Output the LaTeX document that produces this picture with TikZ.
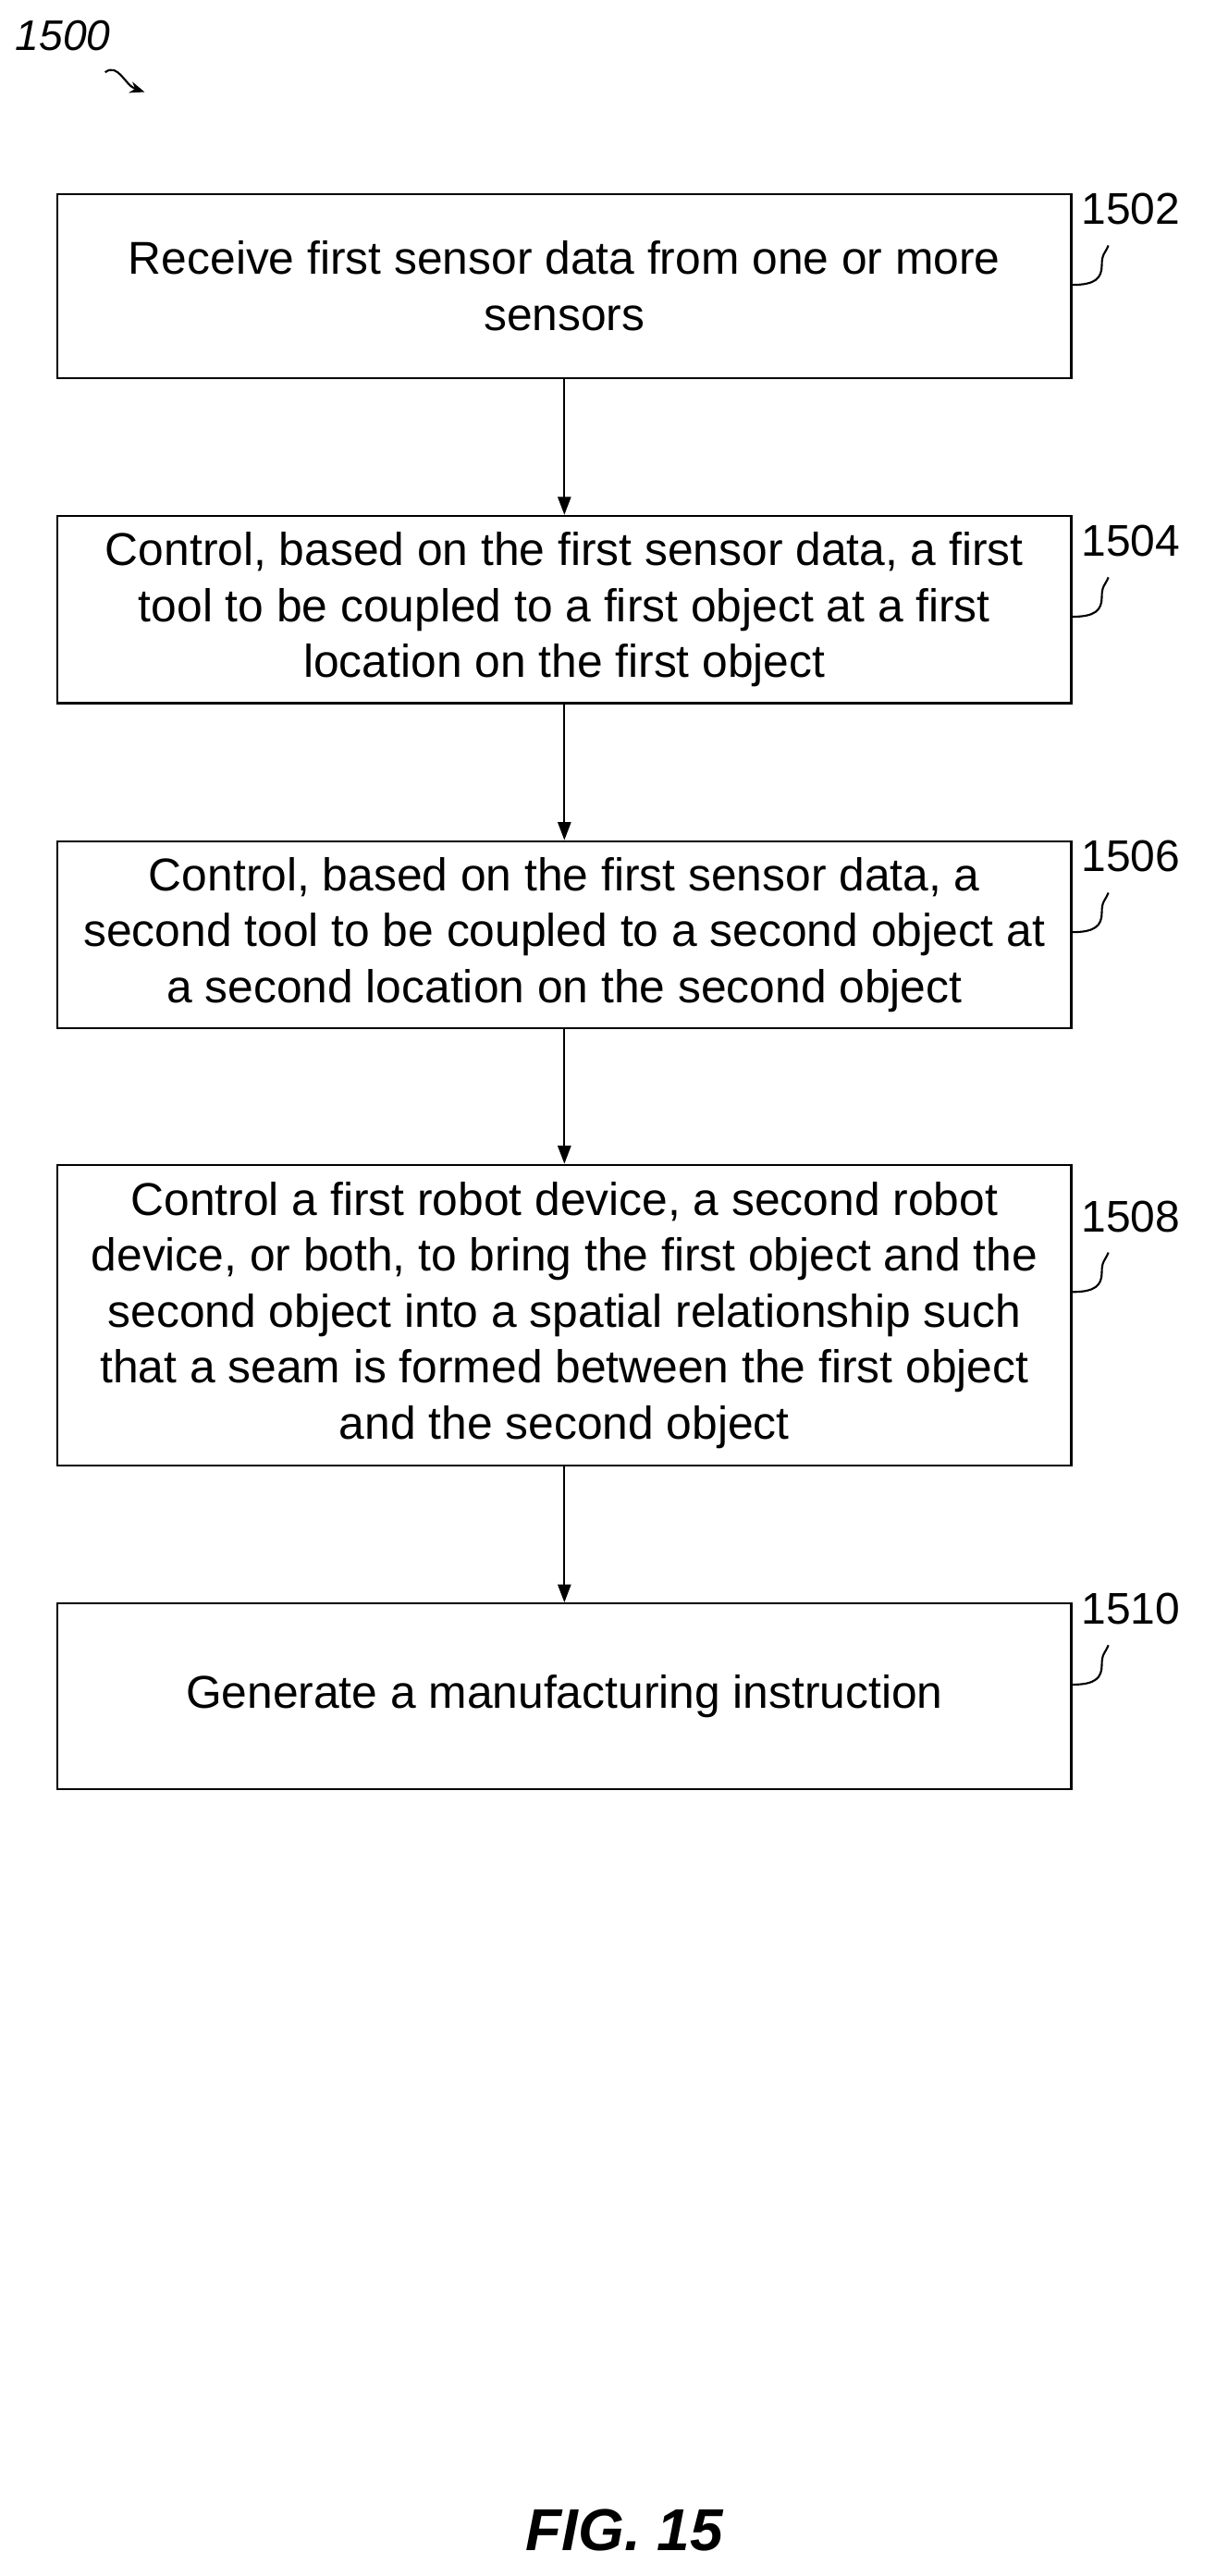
\documentclass[tikz,border=0pt]{standalone}
\usepackage{fontspec}
\setmainfont{Liberation Sans}
\usetikzlibrary{positioning,arrows.meta}
\tikzset{
  step box/.style={
    draw=black,
    line width=1.2pt,
    minimum width=617pt,
    minimum height={#1},
    align=center,
    font=\fontsize{28}{34}\selectfont,
  },
  ref label/.style={
    anchor=west,
    font=\fontsize{27}{30}\selectfont,
  },
  flow/.style={
    -{Triangle[length=11pt,width=8pt]},
    line width=1.2pt,
  }
}

\begin{document}
\begin{tikzpicture}[x=1pt,y=-1pt]
        \useasboundingbox (0,0) rectangle (740,1568);
        \fill[white] (0,0) rectangle (740,1568);

        \node [step box=112pt] (s1) at (343.5,174) {Receive first sensor data from one or more\\sensors};
        \node [step box=114pt] (s2) at (343.5,371) {Control, based on the first sensor data, a first\\tool to be coupled to a first object at a first\\location on the first object};
        \node [step box=114pt] (s3) at (343.5,569) {Control, based on the first sensor data, a\\second tool to be coupled to a second object at\\a second location on the second object};
        \node [step box=183pt] (s4) at (343.5,800.5) {Control a first robot device, a second robot\\device, or both, to bring the first object and the\\second object into a spatial relationship such\\that a seam is formed between the first object\\and the second object};
        \node [step box=113pt] (s5) at (343.5,1032.5) {Generate a manufacturing instruction};

        \draw [flow] (s1) -- (s2);
        \draw [flow] (s2) -- (s3);
        \draw [flow] (s3) -- (s4);
        \draw [flow] (s4) -- (s5);

        % reference numerals
        \foreach \s/\n/\d in {s1/1502/10,s2/1504/16,s3/1506/10,s4/1508/32,s5/1510/4} {
          \node [ref label] (l\n) at ([xshift=2pt,yshift=-\d pt]\s.north east) {\n};
          \draw [line width=1.2pt] ([yshift=-\d pt - 46pt]\s.north east)
            .. controls +(14,0) and +(0,8) .. +(18,-12)
            .. controls +(0,-7) and +(-2,5) .. +(22,-24);
        }

        \node [anchor=west, font=\itshape\fontsize{26}{30}\selectfont] (fig) at (6,22) {1500};
        \draw [-{Stealth[length=9pt,width=7pt]}, line width=1.2pt] (64,44)
          .. controls (72,38) and (76,52) .. (88,56);

        \node [font=\bfseries\itshape\fontsize{36}{42}\selectfont] (cap) at (380,1540) {FIG. 15};
\end{tikzpicture}
\end{document}
